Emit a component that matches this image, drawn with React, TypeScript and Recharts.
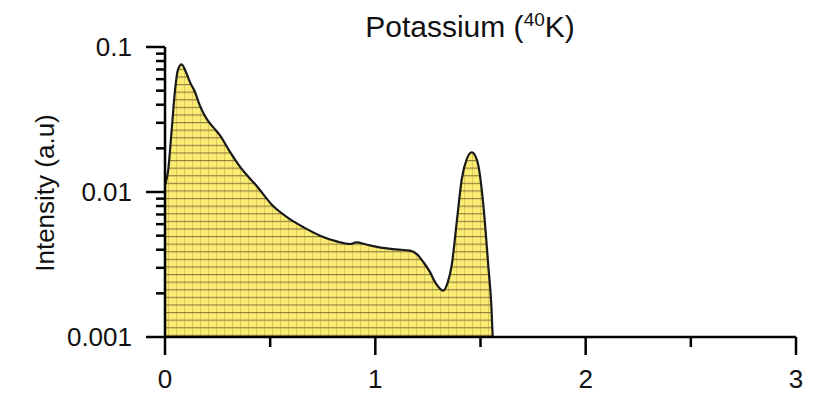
import { AreaChart, Area, XAxis, YAxis } from 'recharts';

// energy (MeV) vs intensity
const energy = [
  0.0, 0.014, 0.032, 0.048, 0.062, 0.079, 0.1, 0.119, 0.14, 0.166, 0.198, 0.23, 0.262, 0.309, 0.357,
  0.436, 0.514, 0.594, 0.66, 0.737, 0.816, 0.88, 0.91, 0.96, 1.02, 1.1, 1.165, 1.2, 1.228, 1.26,
  1.284, 1.323, 1.345, 1.363, 1.387, 1.411, 1.435, 1.458, 1.475, 1.49, 1.514, 1.537, 1.552, 1.558,
];
const intensity = [
  0.0112, 0.0137, 0.027, 0.051, 0.07, 0.076, 0.067, 0.057, 0.0499, 0.0394, 0.0319, 0.0279, 0.0245,
  0.0189, 0.0149, 0.011, 0.008, 0.0065, 0.0057, 0.005, 0.00457, 0.00438, 0.00449, 0.00433, 0.00415,
  0.00402, 0.00394, 0.0037, 0.00329, 0.0028, 0.00239, 0.00209, 0.0024, 0.00311, 0.0062, 0.0123,
  0.0169, 0.0188, 0.0178, 0.0152, 0.008, 0.0031, 0.0016, 0.001,
];

const xTicks = [0, 0.5, 1, 1.5, 2, 2.5, 3];
const xMajor = [0, 1, 2, 3];
const yTicks = [
  0.001, 0.002, 0.003, 0.004, 0.005, 0.006, 0.007, 0.008, 0.009,
  0.01, 0.02, 0.03, 0.04, 0.05, 0.06, 0.07, 0.08, 0.09, 0.1,
];
const yMajor = [0.001, 0.01, 0.1];
const yMajorLabels = ['0.001', '0.01', '0.1'];

const data = energy.map((e, i) => ({ e, v: intensity[i] }));

const FONT = '"Liberation Sans", Arial, Helvetica, sans-serif';

function XTick({ x, y, payload }: any) {
  const major = xMajor.includes(payload.value);
  return (
    <g>
      <line x1={x} x2={x} y1={y} y2={y + (major ? 18 : 10)} stroke="#000" strokeWidth={2.5} />
      {major && (
        <text x={x} y={y + 51} textAnchor="middle" fontSize={26} fontFamily={FONT} fill="#111">
          {payload.value}
        </text>
      )}
    </g>
  );
}

function YTick({ x, y, payload }: any) {
  const idx = yMajor.indexOf(payload.value);
  const major = idx >= 0;
  return (
    <g>
      <line x1={x - (major ? 19 : 9)} x2={x} y1={y} y2={y} stroke="#000" strokeWidth={2.5} />
      {major && (
        <text x={x - 33} y={y + 9} textAnchor="end" fontSize={26} fontFamily={FONT} fill="#111">
          {yMajorLabels[idx]}
        </text>
      )}
    </g>
  );
}

export default function App() {
  return (
    <div style={{ position: 'relative', width: 800, height: 386, fontFamily: FONT }}>
      <AreaChart width={800} height={386} data={data} margin={{ top: 39, right: 12, bottom: 0, left: 0 }}>
        <defs>
          <pattern id="hatch" width={8} height={7.6} patternUnits="userSpaceOnUse">
            <rect width={8} height={7.6} fill="#fbec74" />
            <line x1={0.5} x2={0.5} y1={0} y2={7.6} stroke="#dccb5e" strokeWidth={1} />
            <line x1={0} x2={8} y1={0.6} y2={0.6} stroke="#8a7a3c" strokeWidth={1.1} />
          </pattern>
        </defs>
        <XAxis
          dataKey="e"
          type="number"
          domain={[0, 3]}
          ticks={xTicks}
          interval={0}
          tick={<XTick />}
          tickSize={0}
          tickMargin={0}
          tickLine={false}
          height={57}
          axisLine={{ stroke: '#000', strokeWidth: 2.5 }}
        />
        <XAxis
          xAxisId="top"
          orientation="top"
          type="number"
          domain={[0, 3]}
          tick={false}
          tickLine={false}
          height={0}
          axisLine={{ stroke: '#000', strokeWidth: 2.5 }}
        />
        <YAxis
          type="number"
          scale="log"
          domain={[0.001, 0.1]}
          allowDataOverflow
          ticks={yTicks}
          interval={0}
          tick={<YTick />}
          tickSize={0}
          tickMargin={0}
          tickLine={false}
          width={157}
          axisLine={{ stroke: '#000', strokeWidth: 2.5 }}
        />
        <YAxis
          yAxisId="right"
          orientation="right"
          type="number"
          domain={[0, 1]}
          tick={false}
          tickLine={false}
          width={0}
          axisLine={{ stroke: '#000', strokeWidth: 2.5 }}
        />
        <Area
          type="monotone"
          dataKey="v"
          baseValue={0.001}
          stroke="#1a1a1a"
          strokeWidth={2.2}
          fill="url(#hatch)"
          fillOpacity={1}
          dot={false}
          activeDot={false}
          isAnimationActive={false}
        />
      </AreaChart>
      <div
        style={{
          position: 'absolute',
          left: 462,
          top: 4,
          transform: 'translateX(-50%)',
          fontSize: 30,
          lineHeight: '30px',
          whiteSpace: 'nowrap',
          color: '#111',
        }}
      >
        Potassium (<sup style={{ fontSize: 19, verticalAlign: 'super', lineHeight: 0 }}>40</sup>K)
      </div>
      <div
        style={{
          position: 'absolute',
          left: 37,
          top: 185,
          transform: 'translate(-50%, -50%) rotate(-90deg)',
          fontSize: 26,
          lineHeight: '26px',
          whiteSpace: 'nowrap',
          color: '#111',
        }}
      >
        Intensity (a.u)
      </div>
    </div>
  );
}
